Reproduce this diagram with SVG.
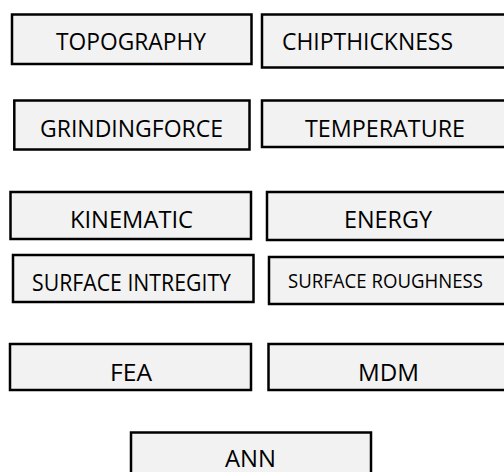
<svg xmlns="http://www.w3.org/2000/svg" width="504" height="472" viewBox="0 0 504 472">
  <style>
    .box { fill: #f2f2f2; stroke: #000; stroke-width: 2.5; }
    .lbl { font-family: "Open Sans", "Liberation Sans", sans-serif; font-size: 23px; fill: #000; }
    .sm { font-size: 20.5px; }
  </style>
  <rect width="504" height="472" fill="#fff"/>
  <g id="connectors"/>
  <g id="topography">
    <rect class="box" x="12" y="14.5" width="239.5" height="49.5"/>
    <text class="lbl" x="56" y="50" textLength="150" lengthAdjust="spacingAndGlyphs">TOPOGRAPHY</text>
  </g>
  <g id="chipthickness">
    <rect class="box" x="262" y="14.5" width="260" height="53"/>
    <text class="lbl" x="282" y="50" textLength="171" lengthAdjust="spacingAndGlyphs">CHIPTHICKNESS</text>
  </g>
  <g id="grindingforce">
    <rect class="box" x="14.3" y="100.5" width="235.2" height="49"/>
    <text class="lbl" x="40" y="137" textLength="183" lengthAdjust="spacingAndGlyphs">GRINDINGFORCE</text>
  </g>
  <g id="temperature">
    <rect class="box" x="262" y="100.5" width="260" height="46.5"/>
    <text class="lbl" x="305" y="137" textLength="160" lengthAdjust="spacingAndGlyphs">TEMPERATURE</text>
  </g>
  <g id="kinematic">
    <rect class="box" x="10.5" y="192" width="240.5" height="47"/>
    <text class="lbl" x="70" y="228" textLength="123" lengthAdjust="spacingAndGlyphs">KINEMATIC</text>
  </g>
  <g id="energy">
    <rect class="box" x="267" y="192" width="255" height="48"/>
    <text class="lbl" x="344" y="228" textLength="88" lengthAdjust="spacingAndGlyphs">ENERGY</text>
  </g>
  <g id="surface-intregity">
    <rect class="box" x="13" y="255" width="240.5" height="47"/>
    <text class="lbl" x="32" y="291" textLength="199" lengthAdjust="spacingAndGlyphs">SURFACE INTREGITY</text>
  </g>
  <g id="surface-roughness">
    <rect class="box" x="269" y="257" width="253" height="47"/>
    <text class="lbl sm" x="288" y="288" textLength="195" lengthAdjust="spacingAndGlyphs">SURFACE ROUGHNESS</text>
  </g>
  <g id="fea">
    <rect class="box" x="10" y="344" width="241" height="46"/>
    <text class="lbl" x="110" y="381" textLength="42" lengthAdjust="spacingAndGlyphs">FEA</text>
  </g>
  <g id="mdm">
    <rect class="box" x="268.5" y="344" width="253" height="46"/>
    <text class="lbl" x="358" y="381" textLength="61" lengthAdjust="spacingAndGlyphs">MDM</text>
  </g>
  <g id="ann">
    <rect class="box" x="131" y="432.5" width="240" height="50"/>
    <text class="lbl" x="225" y="467" textLength="51" lengthAdjust="spacingAndGlyphs">ANN</text>
  </g>
</svg>
